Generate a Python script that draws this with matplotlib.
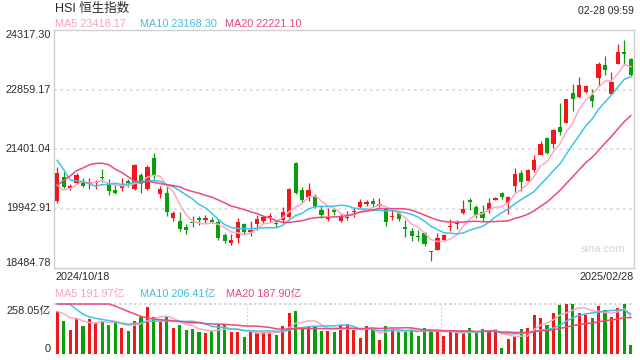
import numpy as np
import matplotlib
matplotlib.use("Agg")
import matplotlib.pyplot as plt

plt.rcParams['font.family'] = ['Liberation Sans', 'Noto Sans CJK SC', 'DejaVu Sans']

# ---------------- data ----------------
title = "HSI 恒生指数"
stamp = "02-28 09:59"
date_first = "2024/10/18"
date_last = "2025/02/28"
watermark = "sina.com"

opens = [20126, 20723, 20450, 20557, 20598, 20549, 20559, 20725, 20544, 20398,
         20448, 20617, 20419, 20759, 20423, 21176, 20287, 20319, 19702, 19632,
         19491, 19602, 19705, 19656, 19658, 19622, 19290, 19093, 19211, 19571,
         19365, 19560, 19648, 19726, 19590, 19662, 19743, 21054, 20400, 20233,
         20258, 19917, 19685, 19898, 19631, 19704, 19858, 19968, 20065, 20115,
         20035, 19933, 19735, 19843, 19491, 19402, 19274, 19334, 18898, 18934,
         19173, 19491, 19554, 19837, 20140, 19983, 19864, 19903, 20157, 20330,
         20078, 20506, 20824, 20628, 20880, 21260, 21670, 21532, 21946, 22049,
         22763, 22676, 22797, 22716, 23135, 23448, 22748, 23494, 23774, 23611]

highs = [20952, 20845, 20532, 20801, 20696, 20688, 20638, 20919, 20665, 20546,
         20693, 20656, 21031, 20816, 21009, 21308, 20494, 20483, 19873, 19862,
         19565, 19765, 19771, 19787, 19740, 19696, 19339, 19322, 19701, 19596,
         19626, 19780, 19754, 19824, 19656, 19988, 20453, 21086, 20482, 20560,
         20297, 20015, 19946, 19947, 19810, 19884, 19949, 20180, 20155, 20197,
         20190, 19950, 19915, 19892, 19669, 19467, 19420, 19375, 18905, 19342,
         19326, 19678, 19666, 20139, 20197, 20040, 20027, 20189, 20231, 20348,
         20259, 20937, 20889, 20916, 21257, 21588, 21695, 21882, 22534, 22637,
         22983, 23166, 22961, 22863, 23527, 23668, 23279, 23984, 24068, 23636]

lows = [20069, 20435, 20395, 20540, 20475, 20425, 20410, 20603, 20274, 20299,
        20366, 20470, 20404, 20325, 20407, 20678, 20190, 19764, 19628, 19387,
        19320, 19479, 19542, 19599, 19577, 19165, 19094, 19050, 19088, 19326,
        19259, 19420, 19583, 19603, 19492, 19596, 19718, 20293, 20114, 20126,
        19947, 19713, 19636, 19783, 19614, 19663, 19745, 19951, 20008, 19976,
        19986, 19525, 19654, 19647, 19244, 19141, 19135, 19031, 18653, 18920,
        19147, 19393, 19445, 19812, 19911, 19714, 19603, 19821, 20141, 20167,
        19809, 20340, 20365, 20616, 20848, 21245, 21270, 21426, 21733, 22040,
        22330, 22660, 22771, 22439, 22956, 23203, 22730, 23480, 23456, 23185]

closes = [20804, 20478, 20499, 20760, 20490, 20590, 20599, 20701, 20381, 20317,
          20506, 20568, 21007, 20538, 20953, 20728, 20427, 19847, 19824, 19436,
          19426, 19577, 19664, 19705, 19601, 19230, 19151, 19159, 19603, 19367,
          19424, 19690, 19746, 19742, 19560, 19866, 20414, 20311, 20155, 20397,
          19971, 19795, 19701, 19865, 19753, 19721, 19883, 20098, 20090, 20041,
          20060, 19623, 19760, 19688, 19448, 19280, 19241, 19064, 18874, 19220,
          19286, 19523, 19584, 19926, 20107, 19779, 19701, 20066, 20198, 20225,
          20217.26, 20789.96, 20597.09, 20891.62, 21133.54, 21521.98, 21294.86, 21857.92, 21814.37, 22620.33,
          22616.23, 22976.81, 22944.24, 22576.98, 23477.92, 23341.61, 23034.02, 23787.93, 23718.29, 23209.00]

# closes of the 19 sessions before the window (warm-up for moving averages)
prior_closes = [18013.15, 18258.57, 18247.86, 19129.10, 19000.56, 19924.58, 20632.30,
                21133.68, 22443.73, 22113.51, 22736.87, 23099.78, 20926.79, 20637.24,
                21251.98, 21092.87, 20318.79, 20286.62, 20079.11]

volumes = [224, 172, 126, 186, 146, 181, 158, 172, 151, 163,
           136, 120, 172, 189, 241, 193, 163, 193, 132, 151,
           126, 129, 112, 107, 120, 151, 151, 112, 112, 86,
           124, 107, 115, 112, 100, 146, 210, 224, 134, 141,
           143, 117, 120, 112, 148, 157, 126, 84, 143, 122,
           71, 143, 131, 115, 126, 126, 95, 136, 122, 120,
           95, 112, 107, 107, 136, 107, 131, 120, 131, 33,
           76, 93, 129, 134, 202, 186, 149, 214, 253.9, 257,
           256, 213, 203, 185, 247.25, 226, 193, 237.8, 258.05, 45]

prior_volumes = [250, 300, 200, 350, 320, 350, 400, 500, 480, 420,
                 400, 420, 450, 380, 330, 230, 230, 210, 206]

price_ticks = [18484.78, 19942.91, 21401.04, 22859.17, 24317.30]
vol_top = 258.05

# ---------------- styling ----------------
RED = '#f01818'
GREEN = '#0a9e0a'
C_MA5 = '#ffa6c6'
C_MA10 = '#40c4e4'
C_MA20 = '#ea4a7e'
T_MA5 = '#f7a0bf'
T_MA10 = '#3ebfe0'
T_MA20 = '#e8467c'
TXT = '#2a2a2a'
W, H = 640, 360


def fx(px):
    return px / W


def fy(py):
    return 1 - py / H


o = np.array(opens, float)
h = np.array(highs, float)
l = np.array(lows, float)
c = np.array(closes, float)
v = np.array(volumes, float)
n = len(c)
x = np.arange(n)


def moving_avg(series, prior, k):
    full = np.concatenate([np.array(prior, float), series])
    out = np.convolve(full, np.ones(k) / k, mode='valid')
    return out[-len(series):]


ma5 = moving_avg(c, prior_closes, 5)
ma10 = moving_avg(c, prior_closes, 10)
ma20 = moving_avg(c, prior_closes, 20)
vma5 = moving_avg(v, prior_volumes, 5)
vma10 = moving_avg(v, prior_volumes, 10)
vma20 = moving_avg(v, prior_volumes, 20)

up = c >= o
cols = np.where(up, RED, GREEN)

fig = plt.figure(figsize=(6.4, 3.6), dpi=100)
fig.patch.set_facecolor('white')

# ---- main price panel ----
ax = fig.add_axes([fx(54), fy(268), fx(580), 238 / H])
ax.set_xlim(-0.5, n - 0.5)
ax.set_ylim(price_ticks[0], price_ticks[-1])
ax.set_xticks([])
ax.set_yticks([])
for s in ax.spines.values():
    s.set_color('#cfcfcf')
    s.set_linewidth(1.0)
for val in price_ticks[1:-1]:
    ax.axhline(val, color='#dcdcdc', lw=1.3, ls=(0, (1.5, 2.0)), zorder=0)

ax.vlines(x, l, h, colors=cols, lw=0.9, zorder=2)
body_lo = np.minimum(o, c)
body_h = np.maximum(np.abs(c - o), 22)
ax.bar(x, body_h, bottom=body_lo, width=0.64, color=cols, linewidth=0, zorder=3)

ax.plot(x, ma5, color=C_MA5, lw=1.1, zorder=4)
ax.plot(x, ma10, color=C_MA10, lw=1.1, zorder=4)
ax.plot(x, ma20, color=C_MA20, lw=1.1, zorder=4)

ax.text(0.985, 0.08, watermark, transform=ax.transAxes, ha='right', va='center',
        fontsize=8, color='#d4d4d4', zorder=1)

# y labels for price
for val in price_ticks:
    py = 268 - (val - price_ticks[0]) / (price_ticks[-1] - price_ticks[0]) * 238
    if val == price_ticks[-1]:
        py += 4.8
    elif val == price_ticks[0]:
        py -= 4.8
    fig.text(fx(51), fy(py), f"{val:.2f}", ha='right', va='center', fontsize=7.8, color=TXT)

# header texts
fig.text(fx(55), fy(9), title, ha='left', va='center', fontsize=9, color=TXT)
fig.text(fx(634), fy(11.5), stamp, ha='right', va='center', fontsize=7.5, color=TXT)
fig.text(fx(55), fy(24), f"MA5 {ma5[-1]:.2f}", ha='left', va='center', fontsize=7.8, color=T_MA5)
fig.text(fx(140.5), fy(24), f"MA10 {ma10[-1]:.2f}", ha='left', va='center', fontsize=7.8, color=T_MA10)
fig.text(fx(225), fy(24), f"MA20 {ma20[-1]:.2f}", ha='left', va='center', fontsize=7.8, color=T_MA20)

# date labels
fig.text(fx(55), fy(277.5), date_first, ha='left', va='center', fontsize=7.8, color=TXT)
fig.text(fx(634), fy(277.5), date_last, ha='right', va='center', fontsize=7.8, color=TXT)

# ---- volume panel ----
axv = fig.add_axes([fx(54), fy(354), fx(580), 50 / H])
axv.set_xlim(-0.5, n - 0.5)
axv.set_ylim(0, vol_top)
axv.set_xticks([])
axv.set_yticks([])
for s in axv.spines.values():
    s.set_visible(False)
axv.axhline(vol_top, color='#cfcfcf', lw=1.2, ls=(0, (1.5, 1.5)), zorder=0, clip_on=False)
for xv in [n / 3 - 0.5, 2 * n / 3 - 0.5]:
    axv.axvline(xv, color='#d4d4d4', lw=0.9, ls=(0, (1.5, 1.5)), zorder=0)
axv.bar(x, v, width=0.47, color=cols, linewidth=0, zorder=2)
axv.plot(x, np.minimum(vma5, vol_top), color=C_MA5, lw=1.1, zorder=3, clip_on=False)
axv.plot(x, np.minimum(vma10, vol_top), color=C_MA10, lw=1.1, zorder=3, clip_on=False)
axv.plot(x, np.minimum(vma20, vol_top), color=C_MA20, lw=1.1, zorder=3, clip_on=False)

fig.text(fx(55), fy(293.5), f"MA5 {vma5[-1]:.2f}亿", ha='left', va='center', fontsize=7.8, color=T_MA5)
fig.text(fx(140), fy(293.5), f"MA10 {vma10[-1]:.2f}亿", ha='left', va='center', fontsize=7.8, color=T_MA10)
fig.text(fx(225.5), fy(293.5), f"MA20 {vma20[-1]:.2f}亿", ha='left', va='center', fontsize=7.8, color=T_MA20)
fig.text(fx(51), fy(310.5), f"{vol_top:.2f}亿", ha='right', va='center', fontsize=7.8, color=TXT)
fig.text(fx(51), fy(348.5), "0", ha='right', va='center', fontsize=7.8, color=TXT)

fig.savefig("out.png", dpi=100, facecolor='white')
